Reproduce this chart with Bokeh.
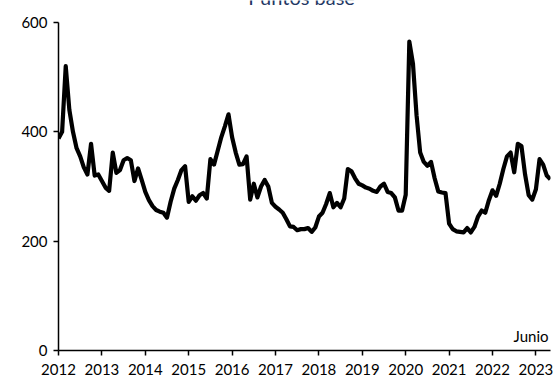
from bokeh.plotting import figure
from bokeh.models import Range1d, FixedTicker, Label
from bokeh.embed import file_html
from bokeh.resources import INLINE

# Monthly spread (puntos base), Jan 2012 onwards
spread = [
    388, 400, 520, 440, 400, 370, 355, 335, 322, 378, 320, 322,
    310, 298, 292, 362, 325, 330, 348, 352, 348, 310, 333, 312,
    290, 275, 264, 257, 254, 252, 243, 272, 296, 312, 330, 337,
    272, 282, 274, 284, 288, 278, 350, 340, 365, 390, 410, 432,
    390, 362, 340, 341, 355, 276, 305, 280, 300, 312, 300, 270,
    263, 258, 252, 240, 227, 226, 220, 222, 222, 224, 217, 225,
    245, 252, 268, 288, 262, 270, 262, 278, 332, 328, 315, 305,
    302, 298, 296, 292, 290, 300, 305, 290, 288, 280, 256, 256,
    285, 565, 525, 430, 362, 345, 338, 345, 315, 291, 289, 288,
    232, 222, 218, 217, 216, 224, 216, 226, 245, 256, 252, 275,
    293, 283, 305, 332, 355, 362, 326, 378, 374, 322, 284, 276,
    295, 350, 340, 320, 313,
]
start_year = 2012
years = list(range(2012, 2024))
y_ticks = [0, 200, 400, 600]
title_text = "Puntos base"
note_text = "Junio"

xs = [start_year + i / 12 for i in range(len(spread))]

FONT = "Lato"

p = figure(
    width=556, height=381, title=None,
    x_range=Range1d(2012, 2023.336), y_range=Range1d(0, 640.2),
    output_backend="svg", toolbar_location=None,
    min_border_left=58, min_border_right=6,
    min_border_top=0, min_border_bottom=31,
)
p.margin = (0, 0, 0, 0)
p.outline_line_color = None
p.background_fill_color = "white"
p.border_fill_color = "white"
p.xgrid.visible = False
p.ygrid.visible = False

p.line(xs, spread, line_color="black", line_width=4.2, line_join="round")

for ax in (p.xaxis[0], p.yaxis[0]):
    ax.axis_line_color = "black"
    ax.axis_line_width = 1.5
    ax.major_tick_line_color = "black"
    ax.major_tick_line_width = 1.5
    ax.major_tick_in = 0
    ax.major_tick_out = 5
    ax.minor_tick_line_color = None
    ax.major_label_text_font = FONT
    ax.major_label_text_font_size = "15px"
    ax.major_label_text_color = "black"

p.xaxis[0].ticker = FixedTicker(ticks=years)
p.xaxis[0].major_label_standoff = 8
p.xaxis[0].major_label_overrides = {y: str(y) for y in years}
p.yaxis[0].ticker = FixedTicker(ticks=y_ticks)
p.yaxis[0].bounds = (0, 600)
p.yaxis[0].major_label_standoff = 6

p.add_layout(Label(x=2017.6, y=646, text=title_text, text_align="center",
                   text_baseline="alphabetic", text_font=FONT,
                   text_font_size="20px", text_color="#1F3864"))
p.add_layout(Label(x=2023.29, y=27, text=note_text, text_align="right",
                   text_baseline="alphabetic", text_font=FONT,
                   text_font_size="15px", text_color="black"))

open("out.html", "w").write(file_html(p, INLINE))
